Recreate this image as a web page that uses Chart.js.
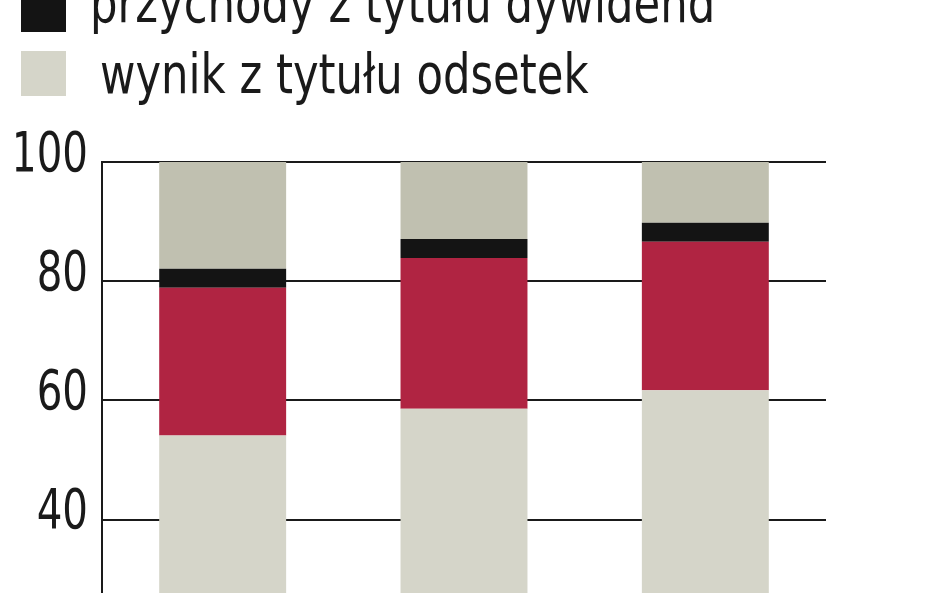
<!DOCTYPE html>
<html>
<head>
<meta charset="utf-8">
<script src="https://cdn.jsdelivr.net/npm/chart.js@4.4.1/dist/chart.umd.min.js"></script>
<style>
  html, body { margin: 0; padding: 0; background: #fff; overflow: hidden; }
  #wrap { position: absolute; left: 0; top: 0; width: 948px; height: 798px; }
</style>
</head>
<body>
<div id="wrap"><canvas id="chart"></canvas></div>
<script>
// values (share in income, %)
const years = ["2010", "2011", "2012"];
const odsetki = [54.1, 58.6, 61.7];
const prowizje = [24.8, 25.3, 24.9];
const dywidendy = [3.2, 3.2, 3.2];
const pozostale = [17.9, 12.9, 10.2];
const yTicks = [0, 20, 40, 60, 80, 100];

const FONT = "'Liberation Sans Narrow', 'Arial Narrow', 'DejaVu Sans Condensed', sans-serif";
const INK = "#1a1a1a";
// the original face is narrower than anything installed, squeeze text sideways
const SQUEEZE_LEGEND = 0.86;
const SQUEEZE_TICKS = 0.815;

// legend drawn at the top left, rows from top to bottom
const sideLegend = {
  id: "sideLegend",
  afterDraw(chart) {
    const ctx = chart.ctx;
    const rows = [
      { ds: 3, box: -141, text: -121, x: 90 },
      { ds: 1, box: -77, text: -50, x: 90 },
      { ds: 2, box: -13, text: 22, x: 90 },
      { ds: 0, box: 51, text: 93, x: 100 },
    ];
    ctx.save();
    ctx.font = "56px " + FONT;
    ctx.textBaseline = "alphabetic";
    ctx.textAlign = "left";
    rows.forEach((r) => {
      const d = chart.data.datasets[r.ds];
      ctx.fillStyle = d.backgroundColor;
      ctx.fillRect(21, r.box, 45, 45);
      ctx.save();
      ctx.translate(r.x, r.text);
      ctx.scale(SQUEEZE_LEGEND, 1);
      ctx.fillStyle = INK;
      ctx.fillText(d.label, 0, 0);
      ctx.restore();
    });
    ctx.restore();
  },
};

const ctx = document.getElementById("chart").getContext("2d");
const chart = new Chart(ctx, {
  type: "bar",
  data: {
    labels: years,
    datasets: [
      { label: "wynik z tytułu odsetek", data: odsetki, backgroundColor: "#d5d5c9" },
      { label: "wynik z tytułu prowizji", data: prowizje, backgroundColor: "#b02442" },
      { label: "przychody z tytułu dywidend", data: dywidendy, backgroundColor: "#141414" },
      { label: "pozostałe", data: pozostale, backgroundColor: "#c0c0b0" },
    ],
  },
  options: {
    responsive: true,
    maintainAspectRatio: false,
    animation: false,
    layout: { padding: { top: 162, right: 122, bottom: 40, left: 0 } },
    datasets: {
      bar: { barPercentage: 1, categoryPercentage: 0.526, borderWidth: 0 },
    },
    plugins: {
      legend: { display: false },
      tooltip: { enabled: false },
    },
    scales: {
      x: { stacked: true, display: false },
      y: {
        stacked: true,
        min: 0,
        max: 100,
        afterBuildTicks: (axis) => {
          axis.ticks = yTicks.map((v) => ({ value: v }));
        },
        afterFit: (axis) => {
          axis.width = 102;
          if (!axis._squeezed) {
            const drawLabels = axis.drawLabels.bind(axis);
            axis.drawLabels = (area) => {
              const c = axis.ctx;
              const edge = axis.right - 14;
              c.save();
              c.translate(edge, 0);
              c.scale(SQUEEZE_TICKS, 1);
              c.translate(-edge, 0);
              drawLabels(area);
              c.restore();
            };
            axis._squeezed = true;
          }
        },
        grid: { color: INK, lineWidth: 2, drawTicks: false },
        border: { display: true, color: INK, width: 2 },
        ticks: {
          padding: 14,
          color: INK,
          font: { family: FONT, size: 55, lineHeight: 0.2 },
          // empty second line lifts the number a little above its grid line
          callback: (v) => [String(v), ""],
        },
      },
    },
  },
  plugins: [sideLegend],
});
</script>
</body>
</html>
